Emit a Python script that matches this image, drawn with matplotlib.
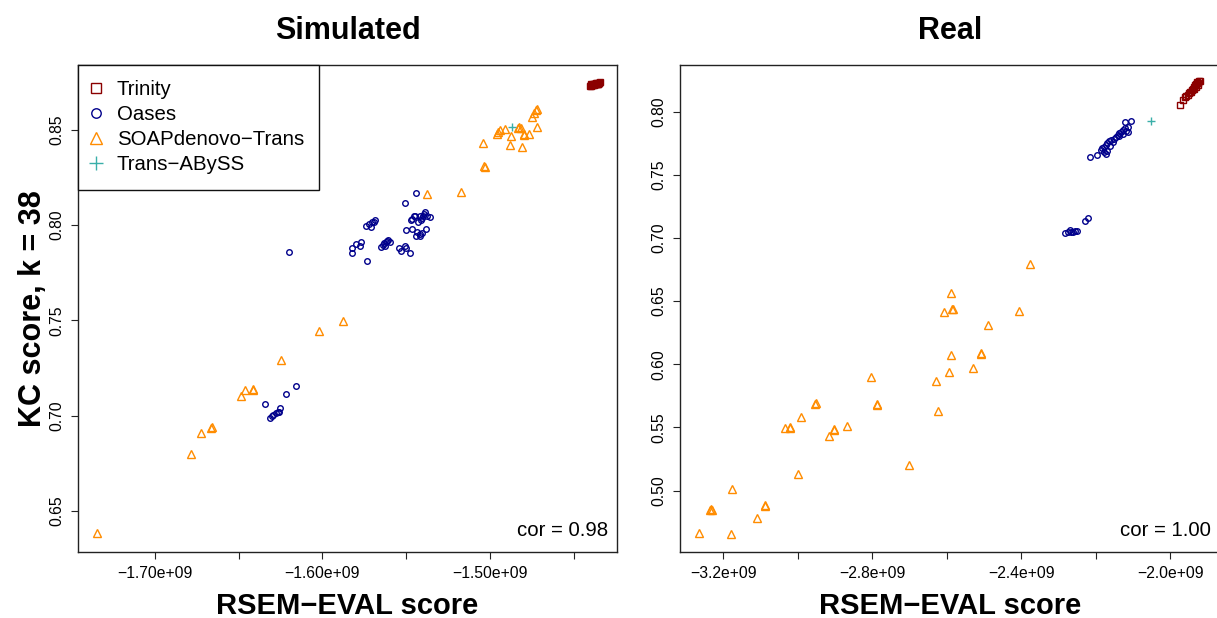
import numpy as np
import matplotlib
matplotlib.use("Agg")
import matplotlib.pyplot as plt

plt.rcParams['font.family'] = ['Liberation Sans', 'DejaVu Sans']

# --- data (scores in units of 1e9) ---
sim_trinity_x = [-1.4402, -1.4398, -1.4395, -1.4390, -1.4386, -1.4382, -1.4378, -1.4374, -1.4370, -1.4366,
                 -1.4362, -1.4358, -1.4354, -1.4350, -1.4346, -1.4342, -1.4396, -1.4380, -1.4364, -1.4352]
sim_trinity_y = [0.8729, 0.8733, 0.8731, 0.8736, 0.8734, 0.8738, 0.8736, 0.8740, 0.8738, 0.8742,
                 0.8740, 0.8744, 0.8742, 0.8746, 0.8745, 0.8748, 0.8738, 0.8742, 0.8746, 0.8738]

sim_oases_x = [-1.5442, -1.5506, -1.5472, -1.5464, -1.5455, -1.5447, -1.5429, -1.5408, -1.5397, -1.5391,
               -1.5387, -1.5376, -1.5359, -1.5419, -1.5404, -1.5502, -1.5464, -1.5434, -1.5419, -1.5404,
               -1.5382, -1.5440, -1.5417, -1.5741, -1.5724, -1.5712, -1.5703, -1.5686, -1.5694, -1.5823,
               -1.5823, -1.5797, -1.5771, -1.5776, -1.5652, -1.5639, -1.5630, -1.5622, -1.5613, -1.5605,
               -1.5596, -1.5626, -1.5545, -1.5532, -1.5506, -1.5502, -1.5476, -1.5733, -1.6197,
               -1.6158, -1.6218, -1.6342, -1.6310, -1.6301, -1.6293, -1.6276, -1.6267, -1.6259, -1.6254]
sim_oases_y = [0.8167, 0.8115, 0.8024, 0.8031, 0.8045, 0.8049, 0.8017, 0.8024, 0.8045, 0.8059,
               0.8071, 0.8045, 0.8042, 0.8045, 0.8035, 0.7976, 0.7981, 0.7965, 0.7955, 0.7956,
               0.7981, 0.7941, 0.7941, 0.7997, 0.8007, 0.7990, 0.8014, 0.8024, 0.8017, 0.7880,
               0.7855, 0.7902, 0.7913, 0.7892, 0.7885, 0.7897, 0.7906, 0.7913, 0.7918, 0.7923,
               0.7913, 0.7892, 0.7882, 0.7864, 0.7892, 0.7878, 0.7855, 0.7814, 0.7857,
               0.7157, 0.7112, 0.7063, 0.6986, 0.6997, 0.7004, 0.7014, 0.7021, 0.7021, 0.7042]

sim_soap_x = [-1.7344, -1.6782, -1.6724, -1.6667, -1.6660, -1.6483, -1.6459, -1.6415, -1.6412, -1.6246,
              -1.6019, -1.5876, -1.5376, -1.5171, -1.5041, -1.5034, -1.5028, -1.4959, -1.4951, -1.4942,
              -1.4908, -1.4874, -1.4878, -1.4831, -1.4823, -1.4814, -1.4797, -1.4797, -1.4806, -1.4767,
              -1.4746, -1.4737, -1.4724, -1.4720, -1.4716]
sim_soap_y = [0.6384, 0.6802, 0.6910, 0.6938, 0.6941, 0.7105, 0.7136, 0.7136, 0.7140, 0.7293,
              0.7444, 0.7498, 0.8164, 0.8171, 0.8428, 0.8310, 0.8303, 0.8477, 0.8488, 0.8498,
              0.8505, 0.8467, 0.8421, 0.8509, 0.8512, 0.8509, 0.8477, 0.8474, 0.8408, 0.8477,
              0.8568, 0.8585, 0.8603, 0.8610, 0.8515]

sim_abyss_x = [-1.4870]
sim_abyss_y = [0.8515]

real_trinity_x = [-1.9743, -1.9669, -1.9614, -1.9578, -1.9541, -1.9504, -1.9467, -1.9431, -1.9394, -1.9357,
                  -1.9339, -1.9302, -1.9265, -1.9229, -1.9210, -1.9320, -1.9375, -1.9449, -1.9284, -1.9247]
real_trinity_y = [0.8056, 0.8090, 0.8114, 0.8124, 0.8130, 0.8146, 0.8161, 0.8172, 0.8183, 0.8198,
                  0.8209, 0.8220, 0.8230, 0.8241, 0.8246, 0.8193, 0.8177, 0.8156, 0.8235, 0.8214]

real_oases_x = [-2.2167, -2.1983, -2.1873, -2.1781, -2.1736, -2.1690, -2.1644, -2.1598, -2.1552, -2.1506,
                -2.1460, -2.1414, -2.1368, -2.1322, -2.1276, -2.1230, -2.1185, -2.1139, -2.1230, -2.1065,
                -2.1781, -2.1690, -2.1736, -2.1827, -2.1617, -2.1368, -2.1276, -2.1139,
                -2.2837, -2.2746, -2.2681, -2.2626, -2.2562, -2.2498, -2.2654, -2.2296, -2.2204]
real_oases_y = [0.7646, 0.7659, 0.7701, 0.7720, 0.7738, 0.7754, 0.7770, 0.7780, 0.7759, 0.7786,
                0.7799, 0.7817, 0.7833, 0.7844, 0.7860, 0.7870, 0.7852, 0.7844, 0.7918, 0.7926,
                0.7680, 0.7693, 0.7667, 0.7712, 0.7728, 0.7812, 0.7825, 0.7878,
                0.7040, 0.7050, 0.7066, 0.7050, 0.7056, 0.7056, 0.7045, 0.7135, 0.7161]

real_soap_x = [-2.3765, -2.5895, -2.6070, -2.5850, -2.5840, -2.4068, -2.4885, -2.5895, -2.5087, -2.5078,
               -2.5298, -2.5932, -2.6290, -2.8044, -2.6226, -2.9532, -2.9513, -2.7879, -2.7870, -2.9917,
               -3.0340, -3.0211, -3.0193, -2.9027, -2.9018, -2.9146, -2.8687, -2.7006, -2.9991, -3.1772,
               -3.2342, -3.2314, -3.2305, -3.0872, -3.0863, -3.1102, -3.2635, -3.1791]
real_soap_y = [0.6796, 0.6561, 0.6415, 0.6437, 0.6442, 0.6421, 0.6312, 0.6071, 0.6085, 0.6090,
               0.5971, 0.5942, 0.5868, 0.5900, 0.5632, 0.5688, 0.5693, 0.5680, 0.5685, 0.5582,
               0.5495, 0.5500, 0.5495, 0.5481, 0.5487, 0.5429, 0.5508, 0.5201, 0.5127, 0.5011,
               0.4849, 0.4854, 0.4849, 0.4881, 0.4886, 0.4780, 0.4661, 0.4656]

real_abyss_x = [-2.0514]
real_abyss_y = [0.7931]

sim_xticks = [-1.70, -1.65, -1.60, -1.55, -1.50, -1.45]
sim_xticklabels = ['\u22121.70e+09', '', '\u22121.60e+09', '', '\u22121.50e+09', '']
sim_yticks = [0.65, 0.70, 0.75, 0.80, 0.85]
real_xticks = [-3.2, -3.0, -2.8, -2.6, -2.4, -2.2, -2.0]
real_xticklabels = ['\u22123.2e+09', '', '\u22122.8e+09', '', '\u22122.4e+09', '', '\u22122.0e+09']
real_yticks = [0.50, 0.55, 0.60, 0.65, 0.70, 0.75, 0.80]

names = ['Trinity', 'Oases', 'SOAPdenovo\u2212Trans', 'Trans\u2212ABySS']
colors = ['#8B0000', '#00008B', '#FF8C00', '#3AAFA9']
markers = ['s', 'o', '^', '+']
sizes = [4.2, 4.0, 5.2, 6.0]

W, H = 1217, 618
fig = plt.figure(figsize=(W / 100, H / 100), dpi=100)
ax1 = fig.add_axes([78 / W, 1 - 552 / H, 539 / W, 487 / H])
ax2 = fig.add_axes([680 / W, 1 - 552 / H, 540 / W, 487 / H])


def draw(ax, series, xlim, ylim, xticks, xticklabels, yticks, cor):
    handles = []
    for (x, y), name, c, m, s in zip(series, names, colors, markers, sizes):
        if m == '+':
            h, = ax.plot(np.array(x) * 1e9, y, linestyle='none', marker=m, ms=s, mew=1.0, color=c, label=name)
        else:
            h, = ax.plot(np.array(x) * 1e9, y, linestyle='none', marker=m, ms=s, mfc='none', mew=1.0,
                         mec=c, label=name)
        handles.append(h)
    ax.set_xlim(xlim[0] * 1e9, xlim[1] * 1e9)
    ax.set_ylim(*ylim)
    ax.set_xticks(np.array(xticks) * 1e9)
    ax.set_xticklabels(xticklabels, fontsize=11.3)
    ax.set_yticks(yticks)
    ax.set_yticklabels([f'{v:.2f}' for v in yticks], fontsize=11.3, rotation=90, va='center')
    ax.tick_params(direction='out', length=5, width=0.8, pad=5, color='#222222')
    for sp in ax.spines.values():
        sp.set_linewidth(1.0)
        sp.set_color('#222222')
    ax.text(0.983, 0.045, cor, transform=ax.transAxes, ha='right', va='center', fontsize=14.7)
    ax.set_xlabel('RSEM\u2212EVAL score', fontsize=21, fontweight='bold', labelpad=8)
    return handles


hs = draw(ax1, [(sim_trinity_x, sim_trinity_y), (sim_oases_x, sim_oases_y),
                (sim_soap_x, sim_soap_y), (sim_abyss_x, sim_abyss_y)],
          (-1.7458, -1.4241), (0.6286, 0.8839), sim_xticks, sim_xticklabels, sim_yticks, 'cor = 0.98')
draw(ax2, [(real_trinity_x, real_trinity_y), (real_oases_x, real_oases_y),
           (real_soap_x, real_soap_y), (real_abyss_x, real_abyss_y)],
     (-3.3156, -1.867), (0.4513, 0.8371), real_xticks, real_xticklabels, real_yticks, 'cor = 1.00')

ax1.set_title('Simulated', fontsize=22, fontweight='bold', pad=19)
ax2.set_title('Real', fontsize=22, fontweight='bold', pad=19)
ax1.set_ylabel('KC score, k = 38', fontsize=22, fontweight='bold', labelpad=1)

leg = ax1.legend(handles=hs, loc='upper left', borderaxespad=0, fontsize=14.7, markerscale=1.7,
                 handlelength=0.25, handletextpad=0.92, borderpad=0.74,
                 labelspacing=0.3, fancybox=False, framealpha=1)
leg.get_frame().set_edgecolor('#111111')
leg.get_frame().set_linewidth(1.0)

fig.savefig('out.png', dpi=100)
